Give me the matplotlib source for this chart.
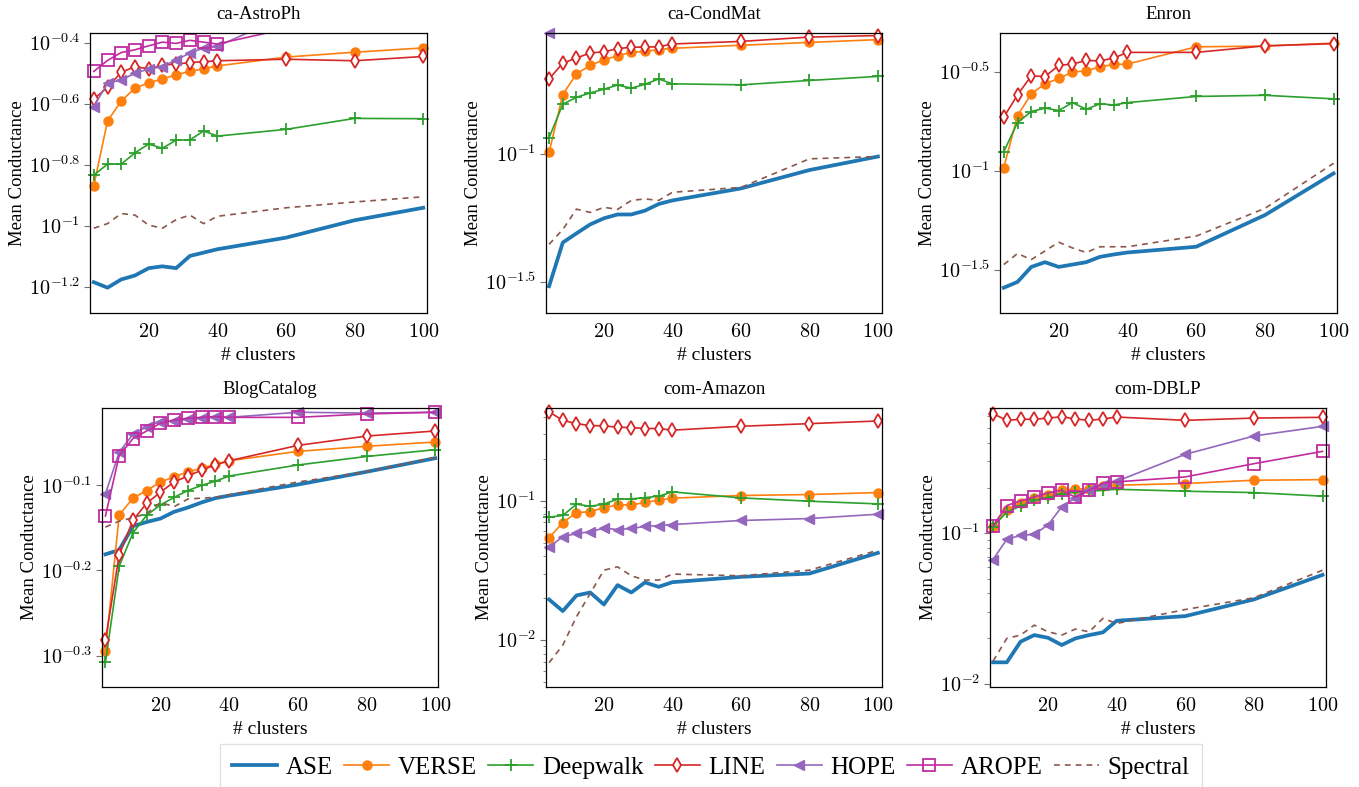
import matplotlib
matplotlib.use('Agg')
import matplotlib.pyplot as plt
from matplotlib.lines import Line2D
from matplotlib.ticker import FixedLocator, NullLocator, LogLocator, NullFormatter
import numpy as np

plt.rcParams['font.family'] = ['Liberation Serif', 'DejaVu Serif']
plt.rcParams['mathtext.fontset'] = 'cm'

# number of clusters on the x axis
clusters = [4, 8, 12, 16, 20, 24, 28, 32, 36, 40, 60, 80, 100]

methods = ['ASE', 'VERSE', 'Deepwalk', 'LINE', 'HOPE', 'AROPE', 'Spectral']

# mean conductance, stored as log10 values (None = not on the plot)
astro = {
    'ASE':      [-1.184, -1.202, -1.175, -1.162, -1.138, -1.132, -1.138, -1.098, -1.087, -1.076, -1.038, -0.981, -0.940],
    'VERSE':    [-0.868, -0.656, -0.590, -0.548, -0.530, -0.518, -0.504, -0.493, -0.484, -0.475, -0.446, -0.430, -0.416],
    'Deepwalk': [-0.833, -0.797, -0.797, -0.760, -0.731, -0.745, -0.718, -0.718, -0.688, -0.705, -0.683, -0.647, -0.648],
    'LINE':     [-0.584, -0.545, -0.496, -0.477, -0.485, -0.472, -0.469, -0.464, -0.461, -0.458, -0.453, -0.458, -0.444],
    'HOPE':     [-0.608, -0.532, -0.521, -0.499, -0.485, -0.477, -0.455, -0.433, -0.416, -0.411, -0.310, None, None],
    'AROPE':    [-0.493, -0.457, -0.431, -0.422, -0.409, -0.397, -0.401, -0.391, -0.397, -0.403, -0.353, None, None],
    'Spectral': [-1.007, -0.992, -0.959, -0.964, -0.997, -1.007, -0.979, -0.964, -0.992, -0.968, -0.940, -0.921, -0.904],
}
condmat = {
    'ASE':      [-1.517, -1.346, -1.310, -1.275, -1.251, -1.236, -1.236, -1.221, -1.195, -1.181, -1.134, -1.062, -1.009],
    'VERSE':    [-0.993, -0.766, -0.685, -0.652, -0.630, -0.614, -0.601, -0.597, -0.590, -0.585, -0.573, -0.562, -0.551],
    'Deepwalk': [-0.935, -0.804, -0.777, -0.760, -0.745, -0.729, -0.741, -0.726, -0.705, -0.724, -0.728, -0.711, -0.695],
    'LINE':     [-0.705, -0.643, -0.623, -0.603, -0.599, -0.586, -0.581, -0.580, -0.579, -0.568, -0.558, -0.541, -0.535],
    'HOPE':     [-0.525, None, None, None, None, None, None, None, None, None, None, None, None],
    'AROPE':    [None] * 13,
    'Spectral': [-1.353, -1.295, -1.215, -1.228, -1.208, -1.216, -1.181, -1.175, -1.181, -1.149, -1.130, -1.018, -1.009],
}
enron = {
    'ASE':      [-1.590, -1.561, -1.485, -1.461, -1.485, -1.473, -1.461, -1.434, -1.422, -1.412, -1.383, -1.223, -1.012],
    'VERSE':    [-0.983, -0.720, -0.610, -0.559, -0.532, -0.500, -0.493, -0.473, -0.461, -0.459, -0.372, -0.368, -0.353],
    'Deepwalk': [-0.902, -0.755, -0.699, -0.682, -0.694, -0.654, -0.688, -0.660, -0.666, -0.654, -0.623, -0.617, -0.635],
    'LINE':     [-0.728, -0.615, -0.519, -0.522, -0.466, -0.459, -0.441, -0.443, -0.429, -0.400, -0.400, -0.367, -0.356],
    'HOPE':     [None] * 13,
    'AROPE':    [None] * 13,
    'Spectral': [-1.473, -1.417, -1.448, -1.404, -1.360, -1.389, -1.412, -1.383, -1.383, -1.383, -1.329, -1.189, -0.961],
}
blog = {
    'ASE':      [-0.181, -0.176, -0.148, -0.143, -0.139, -0.131, -0.126, -0.120, -0.115, -0.112, -0.099, -0.084, -0.068],
    'VERSE':    [-0.295, -0.135, -0.115, -0.106, -0.096, -0.090, -0.084, -0.080, -0.075, -0.071, -0.060, -0.054, -0.049],
    'Deepwalk': [-0.308, -0.195, -0.156, -0.135, -0.123, -0.114, -0.106, -0.100, -0.095, -0.089, -0.076, -0.066, -0.058],
    'LINE':     [-0.282, -0.182, -0.141, -0.121, -0.108, -0.096, -0.089, -0.082, -0.076, -0.071, -0.053, -0.042, -0.036],
    'HOPE':     [-0.110, -0.061, -0.040, -0.031, -0.025, -0.024, -0.022, -0.021, -0.020, -0.020, -0.014, -0.015, -0.014],
    'AROPE':    [-0.136, -0.065, -0.045, -0.036, -0.027, -0.023, -0.021, -0.020, -0.019, -0.020, -0.020, -0.016, -0.014],
    'Spectral': [-0.149, -0.142, -0.138, -0.133, -0.120, -0.125, -0.116, -0.115, -0.114, -0.111, -0.096, -0.084, -0.067],
}
amazon = {
    'ASE':      [-1.709, -1.792, -1.680, -1.659, -1.745, -1.606, -1.659, -1.587, -1.618, -1.585, -1.547, -1.523, -1.375],
    'VERSE':    [-1.267, -1.158, -1.086, -1.081, -1.050, -1.031, -1.031, -1.014, -0.998, -0.983, -0.964, -0.957, -0.943],
    'Deepwalk': [-1.119, -1.107, -1.026, -1.041, -1.026, -0.990, -0.988, -0.979, -0.969, -0.938, -0.981, -1.005, -1.024],
    'LINE':     [-0.365, -0.425, -0.449, -0.463, -0.465, -0.475, -0.477, -0.484, -0.484, -0.496, -0.468, -0.449, -0.430],
    'HOPE':     [-1.332, -1.260, -1.236, -1.224, -1.198, -1.208, -1.200, -1.186, -1.179, -1.172, -1.143, -1.129, -1.098],
    'AROPE':    [None] * 13,
    'Spectral': [-2.162, -2.036, -1.833, -1.666, -1.499, -1.475, -1.539, -1.570, -1.570, -1.527, -1.539, -1.499, -1.356],
}
dblp = {
    'ASE':      [-1.858, -1.858, -1.721, -1.677, -1.695, -1.743, -1.699, -1.677, -1.659, -1.582, -1.551, -1.440, -1.277],
    'VERSE':    [-0.958, -0.843, -0.799, -0.765, -0.743, -0.715, -0.704, -0.708, -0.686, -0.681, -0.670, -0.648, -0.644],
    'Deepwalk': [-0.958, -0.858, -0.821, -0.781, -0.763, -0.741, -0.726, -0.721, -0.715, -0.708, -0.721, -0.730, -0.754],
    'LINE':     [-0.206, -0.250, -0.243, -0.243, -0.235, -0.226, -0.241, -0.250, -0.241, -0.228, -0.250, -0.235, -0.230],
    'HOPE':     [-1.175, -1.040, -1.015, -1.007, -0.945, -0.825, -0.765, -0.715, -0.681, -0.655, -0.476, -0.354, -0.290],
    'AROPE':    [-0.951, -0.816, -0.785, -0.759, -0.732, -0.715, -0.761, -0.715, -0.668, -0.659, -0.626, -0.538, -0.456],
    'Spectral': [-1.850, -1.699, -1.677, -1.611, -1.655, -1.677, -1.637, -1.655, -1.566, -1.600, -1.507, -1.429, -1.246],
}

# line / marker style per method
STYLES = {
    'ASE':      dict(color='#1f77b4', lw=2.7),
    'VERSE':    dict(color='#ff7f0e', lw=1.2, marker='o', ms=6.5),
    'Deepwalk': dict(color='#2ca02c', lw=1.2, marker='+', ms=8.5, mew=1.3),
    'LINE':     dict(color='#d62728', lw=1.2, marker='d', ms=7, mfc='white', mew=1.3),
    'HOPE':     dict(color='#9467bd', lw=1.2, marker='<', ms=7.5),
    'AROPE':    dict(color='#c02ca0', lw=1.2, marker='s', ms=8, mfc='none', mew=1.3),
    'Spectral': dict(color='#8c564b', lw=1.2, ls=(0, (3.5, 3))),
}

# (title, data, y limits in log10, y ticks in log10, x limits, axes box in pixels: left, top, right, bottom)
panels = [
    ('ca-AstroPh', astro, (-1.285, -0.367), [-1.2, -1.0, -0.8, -0.6, -0.4], (2.9, 101.1), (90, 33, 427, 313)),
    ('ca-CondMat', condmat, (-1.622, -0.525), [-1.5, -1.0], (3.1, 101.2), (546, 33, 882, 313)),
    ('Enron', enron, (-1.718, -0.302), [-1.5, -1.0, -0.5], (2.9, 101.0), (1000, 33, 1337, 313)),
    ('BlogCatalog', blog, (-0.337, -0.009), [-0.3, -0.2, -0.1], (3.0, 100.8), (102, 408, 438, 687)),
    ('com-Amazon', amazon, (-2.336, -0.337), [-2.0, -1.0], (3.1, 101.2), (546, 408, 882, 687)),
    ('com-DBLP', dblp, (-2.022, -0.168), [-2.0, -1.0], (3.1, 101.0), (990, 408, 1326, 687)),
]
xticks = [20, 40, 60, 80, 100]

W, H = 1359, 787
fig = plt.figure(figsize=(W / 100, H / 100), dpi=100)
x = np.array(clusters, dtype=float)


def tick_label(e):
    if float(e).is_integer():
        return r'$10^{%d}$' % int(e)
    return r'$10^{%s}$' % ('%g' % e)


def draw_series(ax, name, logs, ylim):
    vals = np.array([np.nan if v is None else v for v in logs], dtype=float)
    if np.all(np.isnan(vals)):
        return
    y = 10 ** vals
    st = dict(STYLES[name])
    marker = st.pop('marker', None)
    ms = st.pop('ms', None)
    mew = st.pop('mew', 1.0)
    mfc = st.pop('mfc', st['color'])
    ax.plot(x, y, color=st['color'], lw=st['lw'], ls=st.get('ls', '-'))
    if marker:
        # markers are not clipped at the frame, lines are
        inside = (vals >= ylim[0] - 1e-6) & (vals <= ylim[1] + 1e-6)
        ax.plot(x[inside], y[inside], ls='none', marker=marker, ms=ms, mew=mew,
                mfc=mfc, mec=st['color'], clip_on=False)


for title, data, ylim, yticks, xlim, box in panels:
    l, t, r, b = box
    ax = fig.add_axes([l / W, 1 - b / H, (r - l) / W, (b - t) / H])
    for name in methods:
        draw_series(ax, name, data[name], ylim)
    ax.set_yscale('log')
    ax.set_ylim(10 ** ylim[0], 10 ** ylim[1])
    ax.set_xlim(*xlim)
    ax.yaxis.set_major_locator(FixedLocator([10 ** e for e in yticks]))
    ax.set_yticklabels([tick_label(e) for e in yticks])
    if all(float(e).is_integer() for e in yticks):
        ax.yaxis.set_minor_locator(LogLocator(base=10, subs=np.arange(2, 10)))
    else:
        ax.yaxis.set_minor_locator(NullLocator())
    ax.yaxis.set_minor_formatter(NullFormatter())
    ax.set_xticks(xticks)
    ax.set_xticklabels([r'$%d$' % v for v in xticks])
    ax.tick_params(axis='x', length=0, pad=7, labelsize=14.5)
    ax.tick_params(axis='y', which='major', length=4, width=0.8, color='0.45', labelsize=14.5, pad=3)
    ax.tick_params(axis='y', which='minor', length=2.5, width=0.6, color='0.45')
    for sp in ax.spines.values():
        sp.set_linewidth(0.9)
    ax.set_title(title, fontsize=13.5, pad=10)
    ax.set_xlabel('# clusters', fontsize=14, labelpad=4)
    ax.set_ylabel('Mean Conductance', fontsize=13.5, labelpad=2)

handles = []
for name in methods:
    st = dict(STYLES[name])
    handles.append(Line2D([], [], color=st['color'], lw=st['lw'], ls=st.get('ls', '-'),
                          marker=st.get('marker'), ms=st.get('ms', 0), mew=st.get('mew', 1.0),
                          mfc=st.get('mfc', st['color']), mec=st['color']))

fig.legend(handles, methods, loc='upper center', bbox_to_anchor=(0.523, 1 - 744 / H),
           ncol=7, fontsize=18, handlelength=1.8, handletextpad=0.35, columnspacing=0.45,
           frameon=True, fancybox=False, edgecolor='0.85', borderpad=0.5, borderaxespad=0)

fig.savefig('out.png', dpi=100)
